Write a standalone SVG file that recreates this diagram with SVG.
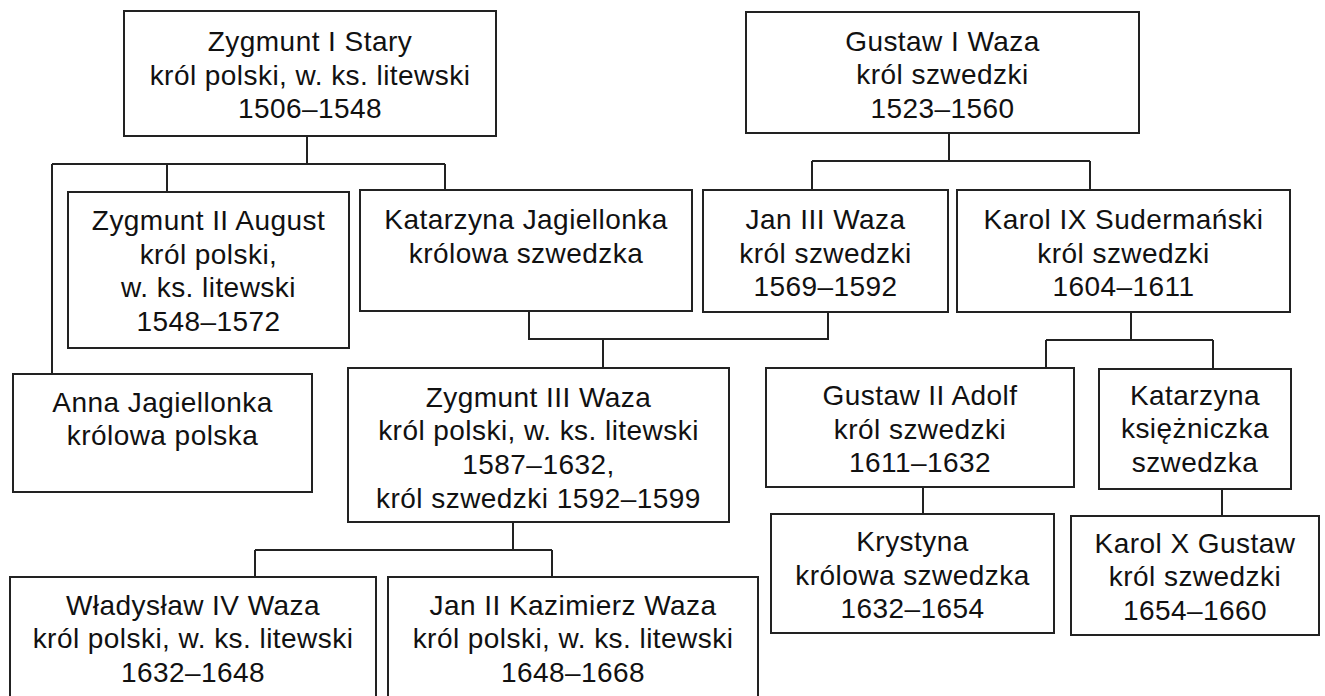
<svg xmlns="http://www.w3.org/2000/svg" width="1325" height="696" viewBox="0 0 1325 696">
<style>
.box{fill:#fff;stroke:#222;stroke-width:2}
.t{font-family:"Liberation Sans",Arial,sans-serif;font-size:28px;fill:#111;text-anchor:middle;letter-spacing:0.45px}
.c{fill:none;stroke:#222;stroke-width:2}
</style>
<rect width="1325" height="696" fill="#fff"/>
<g id="connectors">
<path class="c" d="M307 136V164M52 164H445M52 164V374M167 164V192M445 164V190"/>
<path class="c" d="M949 133V161M812 161H1090M812 161V190M1090 161V190"/>
<path class="c" d="M529 311V339H828V312M603 339V368"/>
<path class="c" d="M1131 312V340M1046 340H1213M1046 340V368M1213 340V369"/>
<path class="c" d="M923 487V514M1222 489V516"/>
<path class="c" d="M513 522V550M255 550H552M255 550V577M552 550V577"/>
</g>
<g id="zygmunt1"><rect class="box" x="124" y="11" width="372" height="125"/>
<text class="t" x="310" y="51">Zygmunt I Stary</text><text class="t" x="310" y="85">król polski, w. ks. litewski</text><text class="t" x="310" y="118">1506–1548</text></g>
<g id="gustaw1"><rect class="box" x="746" y="12" width="393" height="121"/>
<text class="t" x="942.5" y="51">Gustaw I Waza</text><text class="t" x="942.5" y="84">król szwedzki</text><text class="t" x="942.5" y="118">1523–1560</text></g>
<g id="zygmunt2"><rect class="box" x="68" y="192" width="281" height="156"/>
<text class="t" x="208.5" y="230">Zygmunt II August</text><text class="t" x="208.5" y="264">król polski,</text><text class="t" x="208.5" y="297">w. ks. litewski</text><text class="t" x="208.5" y="331">1548–1572</text></g>
<g id="katarzynaJ"><rect class="box" x="360" y="190" width="332" height="121"/>
<text class="t" x="526" y="229">Katarzyna Jagiellonka</text><text class="t" x="526" y="263">królowa szwedzka</text></g>
<g id="jan3"><rect class="box" x="703" y="190" width="245" height="122"/>
<text class="t" x="825.5" y="229">Jan III Waza</text><text class="t" x="825.5" y="263">król szwedzki</text><text class="t" x="825.5" y="296">1569–1592</text></g>
<g id="karol9"><rect class="box" x="957" y="190" width="333" height="122"/>
<text class="t" x="1123.5" y="229">Karol IX Sudermański</text><text class="t" x="1123.5" y="263">król szwedzki</text><text class="t" x="1123.5" y="296">1604–1611</text></g>
<g id="anna"><rect class="box" x="13" y="374" width="299" height="118"/>
<text class="t" x="162.5" y="412">Anna Jagiellonka</text><text class="t" x="162.5" y="445">królowa polska</text></g>
<g id="zygmunt3"><rect class="box" x="348" y="368" width="381" height="154"/>
<text class="t" x="538.5" y="407">Zygmunt III Waza</text><text class="t" x="538.5" y="440">król polski, w. ks. litewski</text><text class="t" x="538.5" y="474">1587–1632,</text><text class="t" x="538.5" y="508">król szwedzki 1592–1599</text></g>
<g id="gustaw2"><rect class="box" x="766" y="368" width="308" height="119"/>
<text class="t" x="920" y="405">Gustaw II Adolf</text><text class="t" x="920" y="439">król szwedzki</text><text class="t" x="920" y="472">1611–1632</text></g>
<g id="katarzynaK"><rect class="box" x="1099" y="369" width="192" height="120"/>
<text class="t" x="1195" y="405">Katarzyna</text><text class="t" x="1195" y="438">księżniczka</text><text class="t" x="1195" y="472">szwedzka</text></g>
<g id="krystyna"><rect class="box" x="771" y="514" width="283" height="119"/>
<text class="t" x="912.5" y="551">Krystyna</text><text class="t" x="912.5" y="585">królowa szwedzka</text><text class="t" x="912.5" y="618">1632–1654</text></g>
<g id="karol10"><rect class="box" x="1071" y="516" width="248" height="119"/>
<text class="t" x="1195" y="553">Karol X Gustaw</text><text class="t" x="1195" y="586">król szwedzki</text><text class="t" x="1195" y="620">1654–1660</text></g>
<g id="wladyslaw4"><rect class="box" x="10" y="577" width="366" height="130"/>
<text class="t" x="193" y="615">Władysław IV Waza</text><text class="t" x="193" y="648">król polski, w. ks. litewski</text><text class="t" x="193" y="682">1632–1648</text></g>
<g id="jan2"><rect class="box" x="388" y="577" width="370" height="130"/>
<text class="t" x="573" y="615">Jan II Kazimierz Waza</text><text class="t" x="573" y="648">król polski, w. ks. litewski</text><text class="t" x="573" y="682">1648–1668</text></g>
</svg>
